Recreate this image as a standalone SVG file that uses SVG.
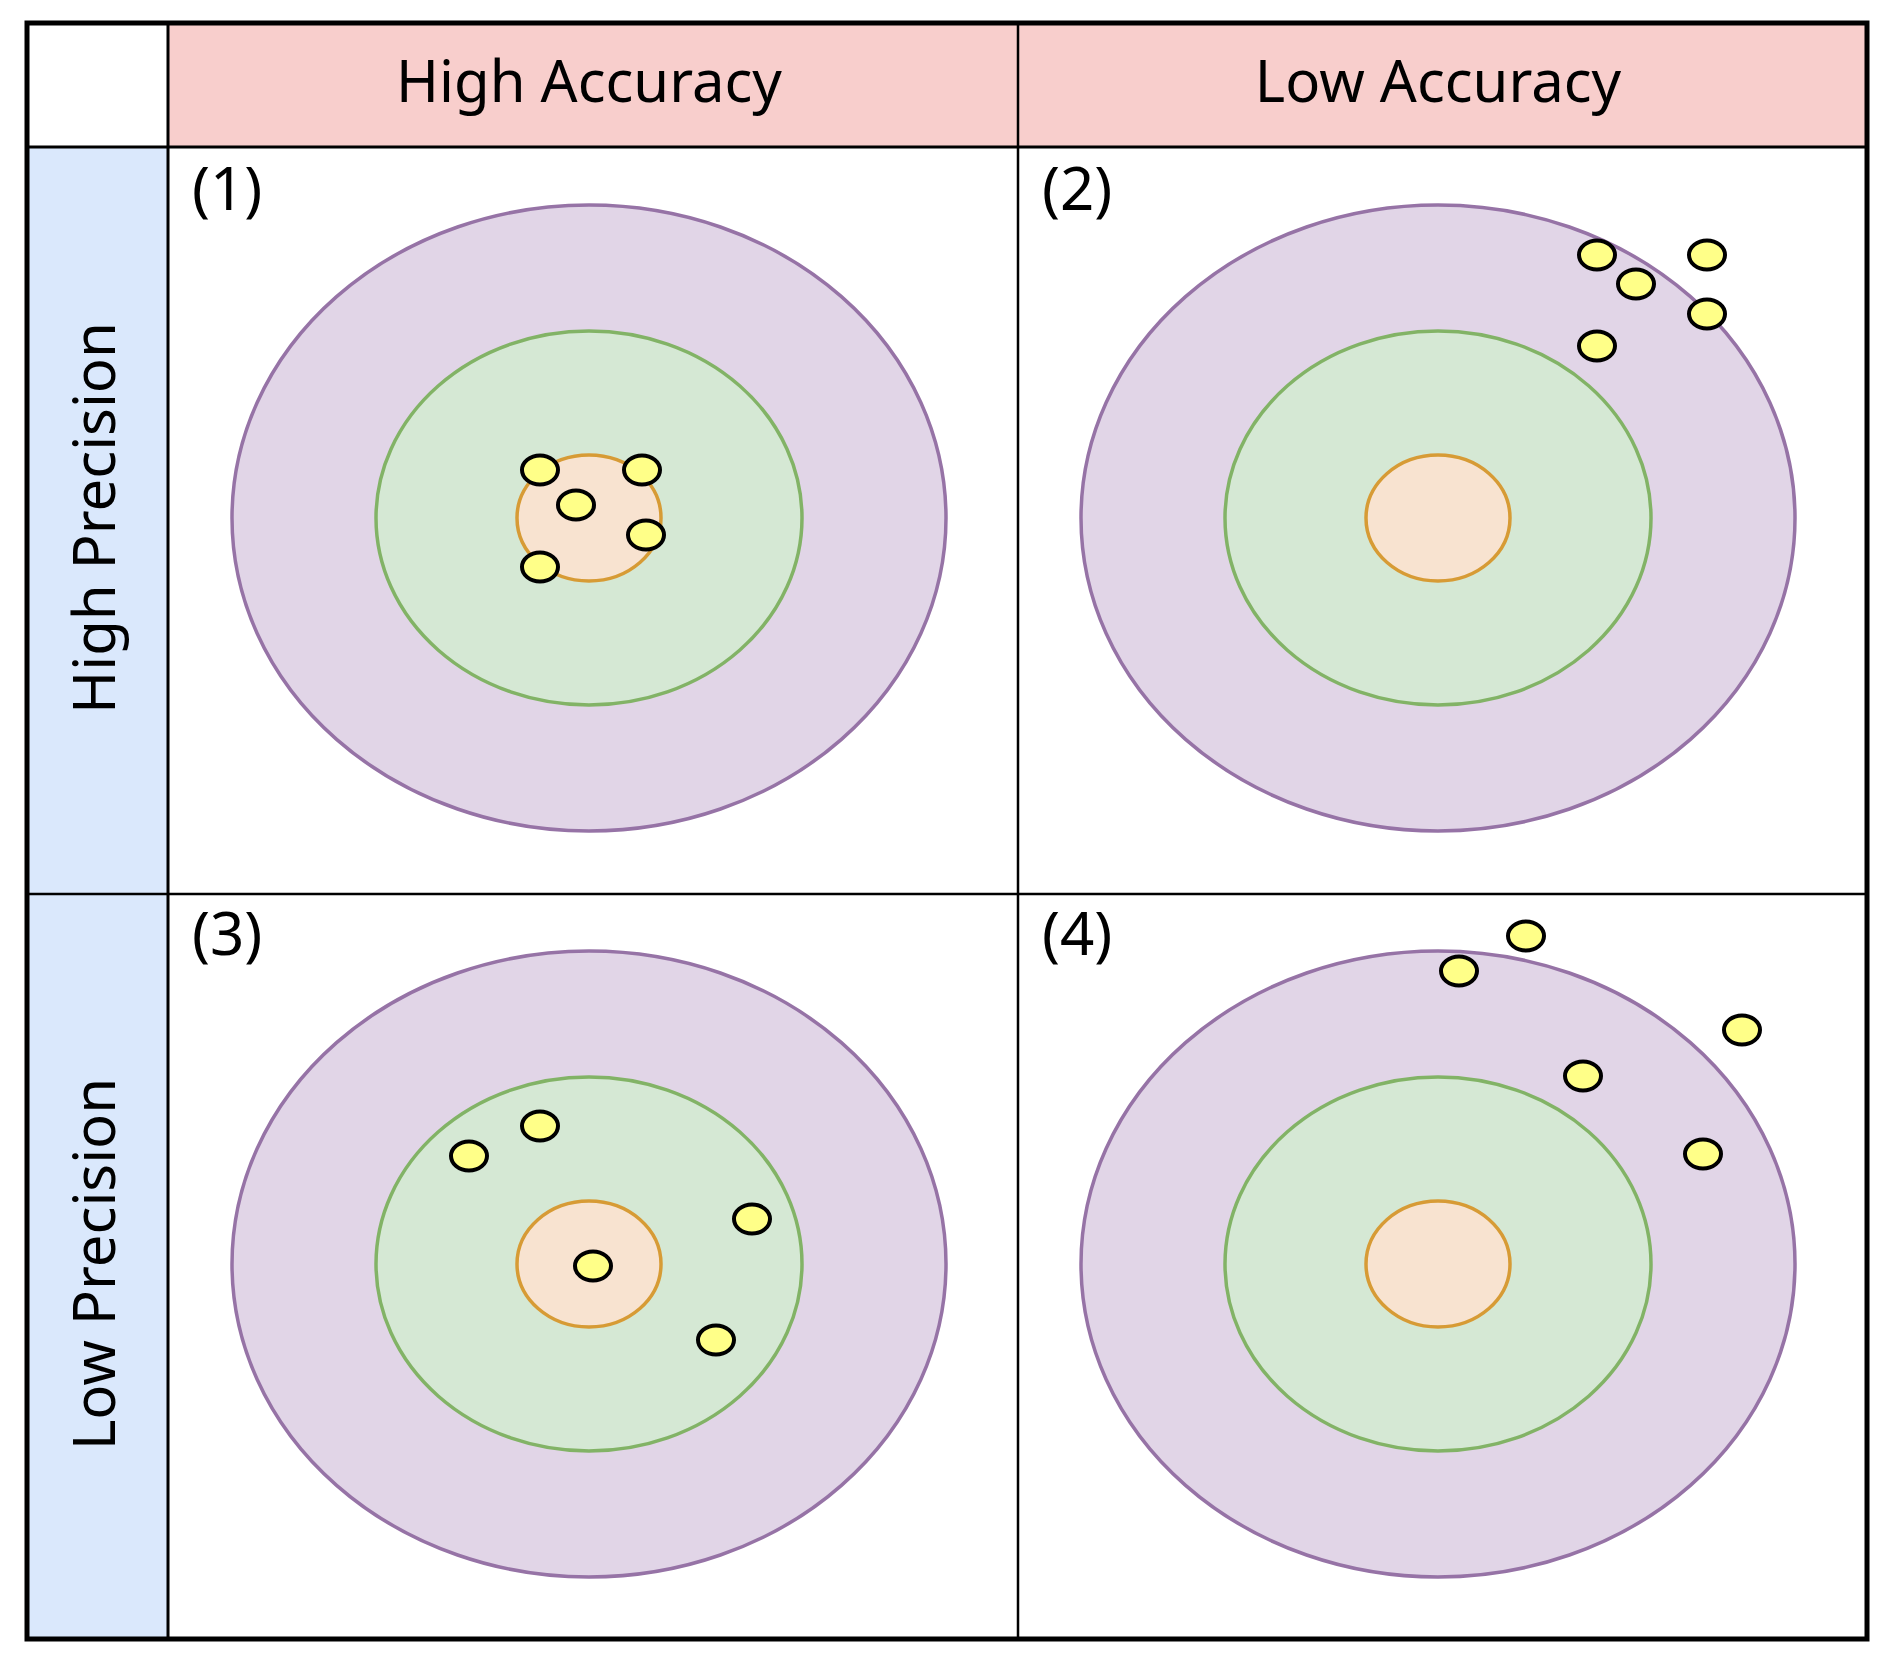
<svg xmlns="http://www.w3.org/2000/svg" width="1889" height="1665" viewBox="0 0 1889 1665">
<style>
.t{font-family:"Noto Sans","Open Sans",sans-serif;fill:#000}
.h{font-size:58px;text-anchor:middle}
.n{font-size:60px}
.o{fill:#e1d5e7;stroke:#9673a6;stroke-width:3.5}
.g{fill:#d5e8d4;stroke:#82b366;stroke-width:3.5}
.c{fill:#f8e3d0;stroke:#d79b35;stroke-width:3.5}
.d{fill:#ffff88;stroke:#000;stroke-width:4}
</style>
<rect width="1889" height="1665" fill="#fff"/>
<g id="grid">
<rect x="168" y="23" width="1699" height="124" fill="#f8cecc"/>
<rect x="27" y="147" width="141" height="1492" fill="#dae8fc"/>
<line x1="168" y1="23" x2="168" y2="1639" stroke="#000" stroke-width="3"/>
<line x1="1018" y1="23" x2="1018" y2="1639" stroke="#000" stroke-width="2.5"/>
<line x1="27" y1="147" x2="1867" y2="147" stroke="#000" stroke-width="3"/>
<line x1="27" y1="894" x2="1867" y2="894" stroke="#000" stroke-width="2.5"/>
<rect x="27" y="23" width="1840" height="1616" fill="none" stroke="#000" stroke-width="5"/>
</g>
<g id="headers">
<text class="t h" x="589" y="102">High Accuracy</text>
<text class="t h" x="1438" y="102">Low Accuracy</text>
<text class="t h" transform="translate(115,518) rotate(-90)">High Precision</text>
<text class="t h" transform="translate(115,1264) rotate(-90)">Low Precision</text>
</g>
<g id="p1">
<text class="t n" x="192" y="210">(1)</text>
<ellipse class="o" cx="589" cy="518" rx="357" ry="313"/>
<ellipse class="g" cx="589" cy="518" rx="213" ry="187"/>
<ellipse class="c" cx="589" cy="518" rx="72" ry="63"/>
<ellipse class="d" cx="540" cy="470" rx="18" ry="14.5"/>
<ellipse class="d" cx="642" cy="470" rx="18" ry="14.5"/>
<ellipse class="d" cx="576" cy="505" rx="18" ry="14.5"/>
<ellipse class="d" cx="646" cy="535" rx="18" ry="14.5"/>
<ellipse class="d" cx="540" cy="567" rx="18" ry="14.5"/>
</g>
<g id="p2">
<text class="t n" x="1042" y="210">(2)</text>
<ellipse class="o" cx="1438" cy="518" rx="357" ry="313"/>
<ellipse class="g" cx="1438" cy="518" rx="213" ry="187"/>
<ellipse class="c" cx="1438" cy="518" rx="72" ry="63"/>
<ellipse class="d" cx="1597" cy="255" rx="18" ry="14.5"/>
<ellipse class="d" cx="1707" cy="255" rx="18" ry="14.5"/>
<ellipse class="d" cx="1636" cy="284" rx="18" ry="14.5"/>
<ellipse class="d" cx="1707" cy="314" rx="18" ry="14.5"/>
<ellipse class="d" cx="1597" cy="346" rx="18" ry="14.5"/>
</g>
<g id="p3">
<text class="t n" x="192" y="955">(3)</text>
<ellipse class="o" cx="589" cy="1264" rx="357" ry="313"/>
<ellipse class="g" cx="589" cy="1264" rx="213" ry="187"/>
<ellipse class="c" cx="589" cy="1264" rx="72" ry="63"/>
<ellipse class="d" cx="540" cy="1126" rx="18" ry="14.5"/>
<ellipse class="d" cx="469" cy="1156" rx="18" ry="14.5"/>
<ellipse class="d" cx="752" cy="1219" rx="18" ry="14.5"/>
<ellipse class="d" cx="593" cy="1266" rx="18" ry="14.5"/>
<ellipse class="d" cx="716" cy="1340" rx="18" ry="14.5"/>
</g>
<g id="p4">
<text class="t n" x="1042" y="955">(4)</text>
<ellipse class="o" cx="1438" cy="1264" rx="357" ry="313"/>
<ellipse class="g" cx="1438" cy="1264" rx="213" ry="187"/>
<ellipse class="c" cx="1438" cy="1264" rx="72" ry="63"/>
<ellipse class="d" cx="1526" cy="936" rx="18" ry="14.5"/>
<ellipse class="d" cx="1459" cy="971" rx="18" ry="14.5"/>
<ellipse class="d" cx="1742" cy="1030" rx="18" ry="14.5"/>
<ellipse class="d" cx="1583" cy="1076" rx="18" ry="14.5"/>
<ellipse class="d" cx="1703" cy="1154" rx="18" ry="14.5"/>
</g>
</svg>
